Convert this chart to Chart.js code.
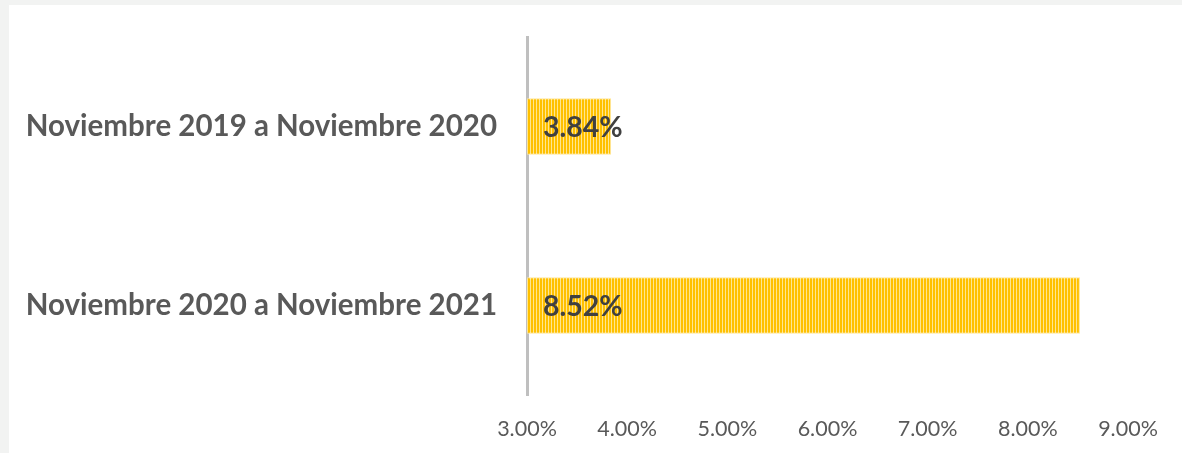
<!DOCTYPE html>
<html>
<head>
<meta charset="utf-8">
<script src="https://cdn.jsdelivr.net/npm/chart.js@4.4.0/dist/chart.umd.min.js"></script>
<style>
  html, body { margin: 0; padding: 0; background: #f2f3f2; width: 1182px; height: 453px; overflow: hidden; }
  #wrap { position: absolute; left: 9px; top: 5px; width: 1173px; height: 448px; background: #ffffff; }
  canvas { display: block; }
</style>
</head>
<body>
<div id="wrap"><canvas id="c" width="1173" height="448"></canvas></div>
<script>
const categories = ['Noviembre 2019 a Noviembre 2020', 'Noviembre 2020 a Noviembre 2021'];
const values = [3.84, 8.52];
const axisMin = 3;
const axisMax = 9;
const tickStep = 1;

const FONT = 'Lato, "Open Sans", sans-serif';

function makePattern() {
  const p = document.createElement('canvas');
  p.width = 3; p.height = 4;
  const g = p.getContext('2d');
  g.fillStyle = '#FFC000';
  g.fillRect(0, 0, 3, 4);
  g.fillStyle = '#FFE690';
  g.fillRect(2, 0, 1, 4);
  return document.getElementById('c').getContext('2d').createPattern(p, 'repeat');
}

const valueLabels = {
  id: 'valueLabels',
  afterDatasetsDraw(chart) {
    const ctx = chart.ctx;
    const meta = chart.getDatasetMeta(0);
    const x0 = chart.scales.x.getPixelForValue(axisMin);
    ctx.save();
    ctx.font = 'bold 28.5px ' + FONT;
    ctx.fillStyle = '#404040';
    ctx.textAlign = 'left';
    ctx.textBaseline = 'middle';
    meta.data.forEach((bar, i) => {
      const v = chart.data.datasets[0].data[i];
      ctx.fillText(v.toFixed(2) + '%', x0 + 16, bar.y + 1);
    });
    ctx.restore();
  }
};

new Chart(document.getElementById('c'), {
  type: 'bar',
  data: {
    labels: categories,
    datasets: [{
      data: values,
      backgroundColor: makePattern(),
      borderColor: '#FFE699',
      borderWidth: 1,
      borderSkipped: 'left',
      categoryPercentage: 1,
      barPercentage: 0.315
    }]
  },
  options: {
    indexAxis: 'y',
    responsive: false,
    animation: false,
    devicePixelRatio: 1,
    layout: { padding: { top: 32, right: 54, left: 0, bottom: 0 } },
    plugins: { legend: { display: false }, tooltip: { enabled: false }, title: { display: false } },
    scales: {
      x: {
        min: axisMin, max: axisMax,
        grid: { display: false, drawTicks: false },
        border: { display: false },
        ticks: {
          stepSize: tickStep,
          padding: 21,
          color: '#595959',
          font: { family: FONT, size: 21.5 },
          callback: v => v.toFixed(2) + '%'
        },
        afterFit(s) { s.height = 58; }
      },
      y: {
        grid: { display: false, drawTicks: false },
        border: { display: true, color: '#BFBFBF', width: 3 },
        ticks: {
          padding: 30,
          color: '#595959',
          font: { family: FONT, size: 29.5, weight: 'bold' }
        },
        afterFit(s) { s.width = 518; s.paddingTop = 0; s.paddingBottom = 0; }
      }
    }
  },
  plugins: [valueLabels]
});
</script>
</body>
</html>
